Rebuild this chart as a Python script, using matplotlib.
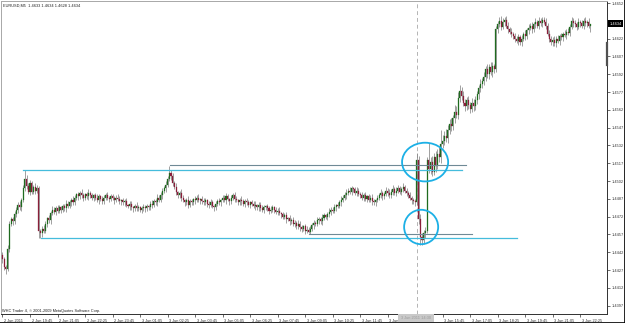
import matplotlib
matplotlib.use('Agg')
import matplotlib.pyplot as plt
from matplotlib.patches import Ellipse, Rectangle
from matplotlib.lines import Line2D
import matplotlib.transforms as mtransforms
import numpy as np

# EURUSD M5, prices in pips above 1.4400
open_first = 40
closes = [
    36, 30, 28, 45, 66, 70, 68, 74, 78, 82, 80, 86, 96, 104, 98, 93, 100, 93, 97, 94,
    96, 60, 58, 62, 60, 66, 71, 69, 75, 78, 76, 79, 77, 80, 78, 81, 79, 83, 81, 84,
    86, 84, 88, 91, 89, 92, 90, 88, 91, 89, 92, 90, 88, 90, 88, 86, 89, 87, 85, 88,
    90, 88, 87, 89, 88, 86, 88, 87, 85, 86, 84, 85, 82, 81, 83, 80, 79, 81, 79, 80,
    78, 79, 80, 79, 81, 80, 83, 82, 85, 84, 88, 86, 90, 94, 96, 99, 104, 109, 106, 100,
    97, 93, 90, 92, 88, 86, 84, 86, 82, 85, 84, 87, 86, 88, 86, 87, 85, 84, 86, 83,
    82, 84, 81, 80, 83, 85, 84, 86, 88, 86, 89, 87, 85, 88, 90, 87, 86, 84, 86, 85,
    83, 85, 84, 82, 84, 83, 81, 82, 80, 82, 79, 78, 80, 81, 79, 77, 78, 80, 78, 76,
    77, 75, 74, 72, 73, 70, 71, 68, 69, 66, 67, 64, 66, 63, 62, 64, 60, 61, 59, 62,
    65, 67, 66, 69, 70, 68, 71, 73, 72, 74, 76, 78, 77, 80, 82, 81, 84, 86, 88, 90,
    92, 94, 93, 96, 95, 92, 94, 91, 90, 88, 90, 87, 89, 86, 88, 85, 84, 86, 88, 90,
    92, 89, 91, 94, 92, 90, 93, 95, 92, 94, 96, 93, 95, 97, 94, 92, 90, 88, 86, 85,
    84, 120, 70, 55, 52, 58, 60, 120, 112, 118, 110, 122, 115, 125, 122, 133, 136, 140, 138, 145,
    150, 148, 155, 160, 158, 172, 178, 174, 168, 165, 170, 166, 163, 168, 165, 170, 175, 180, 184, 186,
    190, 196, 192, 198, 194, 199, 196, 230, 234, 237, 232, 236, 238, 233, 230, 228, 226, 224, 222, 220,
    223, 219, 222, 226, 224, 229, 231, 233, 230, 234, 236, 233, 237, 235, 238, 236, 233, 226, 222, 219,
    221, 218, 222, 220, 224, 223, 226, 225, 228, 227, 232, 237, 235, 234, 232, 236, 235, 233, 237, 235,
    236, 233, 234,
]
# wick lengths in pips beyond the body (base 36 digits)
up_wick = ("22132223223237323223" "32223212232232122322" "23212232123221232122"
           "23122123212231221232" "12322123223232232623" "23123212322122312321"
           "23212231223212232123" "22321223122321223212" "23122312232132212322"
           "22132232123223122323" "32321232232312232122" "32232324233223222312"
           "26343332e454546c5464" "45365553433434343343" "43534323334323323232"
           "32323232323232223232" "23232323232323232323" "230")
dn_wick = ("33423232232322323223" "26432232322322322322" "32223223223223223222"
           "22322322232322323222" "23232223223223232232" "23223232322232232223"
           "32232223223232232223" "23223223232232232232" "32322323223223323212"
           "23223232232322322322" "32232232223232232322" "23223223232232232232"
           "32474342344353453434" "34343434343343433434" "34343432323232323232"
           "32323232323232323232" "32323232323232323232" "325")

x_label_bars = [0, 16, 32, 48, 64, 80, 96, 112, 128, 144, 160, 176, 192, 208,
                224, 256, 272, 288, 304, 320, 336]
x_labels = ['2 Jun 2011', '2 Jun 19:45', '2 Jun 21:05', '2 Jun 22:25', '2 Jun 23:45',
            '3 Jun 01:05', '3 Jun 02:25', '3 Jun 03:45', '3 Jun 05:05', '3 Jun 06:25',
            '3 Jun 07:45', '3 Jun 09:05', '3 Jun 10:25', '3 Jun 11:45', '3 Jun 13:05',
            '3 Jun 15:45', '3 Jun 17:05', '3 Jun 18:25', '3 Jun 19:45', '3 Jun 21:05',
            '3 Jun 22:25']
y_ticks = [1.4397, 1.4412, 1.4427, 1.4442, 1.4457, 1.4472, 1.4487, 1.4502, 1.4517,
           1.4532, 1.4547, 1.4562, 1.4577, 1.4592, 1.4607, 1.4622, 1.4652]

BASE = 1.4400
PIP = 0.0001
FONT = 'Liberation Sans'
FS = 2.8

c = np.array(closes, dtype=float)
o = np.concatenate([[open_first], c[:-1]])
up = np.array([int(ch, 36) for ch in up_wick], dtype=float)
dn = np.array([int(ch, 36) for ch in dn_wick], dtype=float)
assert len(c) == len(up) == len(dn) == 343
h = np.maximum(o, c) + up
l = np.minimum(o, c) - dn
o, h, l, c = (BASE + v * PIP for v in (o, h, l, c))
x = np.arange(len(c))

fig = plt.figure(figsize=(6.25, 3.23), dpi=100, facecolor='white')
ax = fig.add_axes([1 / 625, 9 / 323, 606 / 625, 313 / 323])
ax.set_facecolor('white')

# candles
ax.vlines(x, l, h, color='#868686', lw=0.55, zorder=2)
bull = c >= o
body = np.maximum(np.abs(c - o), 0.4 * PIP)
ax.bar(x[bull], body[bull], bottom=o[bull], width=0.6, color='#1f6b1f',
       edgecolor='#1f6b1f', lw=0.2, zorder=3)
ax.bar(x[~bull], body[~bull], bottom=c[~bull], width=0.6, color='#8a1f3a',
       edgecolor='#8a1f3a', lw=0.2, zorder=3)

# trend lines
ax.plot([12, 267.3], [1.4511, 1.4511], color='#45bcdc', lw=0.9, zorder=4)
ax.plot([97.4, 269.6], [1.45155, 1.45155], color='#6f8a96', lw=0.8, zorder=4)
ax.plot([22.4, 299.3], [1.4454, 1.4454], color='#45bcdc', lw=0.9, zorder=4)
ax.plot([178.3, 273.0], [1.44575, 1.44575], color='#6f8a96', lw=0.8, zorder=4)

# crosshair
ax.axvline(241, color='#b4b4b4', lw=0.7, ls=(0, (4, 3)), zorder=1)

# circles
ax.add_patch(Ellipse((245.8, 1.4518), 26.8, 32.6 * PIP, fill=False,
                     edgecolor='#1cb0e6', lw=1.3, zorder=5))
ax.add_patch(Ellipse((243.5, 1.44633), 19.8, 29.0 * PIP, fill=False,
                     edgecolor='#1cb0e6', lw=1.3, zorder=5))

ax.set_xlim(-0.87, 351.6)
ax.set_ylim(BASE - 10.0 * PIP, BASE + 253.7 * PIP)

for side in ['left', 'top']:
    ax.spines[side].set_color('#a8a8a8')
    ax.spines[side].set_linewidth(0.7)
for side in ['right', 'bottom']:
    ax.spines[side].set_color('#303030')
    ax.spines[side].set_linewidth(0.7)

ax.yaxis.tick_right()
ax.set_yticks(y_ticks)
ax.set_yticklabels(['%.4f' % v for v in y_ticks], fontsize=FS, family=FONT, color='#202020')
ax.tick_params(axis='y', direction='out', length=2, width=0.5, pad=1.2, colors='#303030')

ax.set_xticks(x_label_bars)
ax.set_xticklabels(x_labels, fontsize=FS, family=FONT, color='#202020', ha='left')
ax.tick_params(axis='x', direction='out', length=2.5, width=0.5, pad=0.8, colors='#303030')
shift = mtransforms.ScaledTranslation(1.5 / 100, 0, fig.dpi_scale_trans)
for lab in ax.get_xticklabels():
    lab.set_transform(lab.get_transform() + shift)

# header and footer text
ax.text(0.004, 0.993, 'EURUSD,M5  1.4633 1.4634 1.4628 1.4634', transform=ax.transAxes,
        fontsize=FS, family=FONT, color='#202020', va='top', ha='left')
ax.text(0.002, 0.004, 'WHC Trader 4, \u00a9 2001-2009 MetaQuotes Software Corp.',
        transform=ax.transAxes, fontsize=FS, family=FONT, color='#202020',
        va='bottom', ha='left')

# current price box on the price scale
fig.add_artist(Rectangle((608 / 625, 1 - 27 / 323), 15 / 625, 6.5 / 323,
                         transform=fig.transFigure, facecolor='black', edgecolor='none'))
fig.text(615.5 / 625, 1 - 23.7 / 323, '1.4634', fontsize=FS, family=FONT, color='white',
         ha='center', va='center')
fig.add_artist(Line2D([607 / 625, 607 / 625], [1 - 43 / 323, 1 - 65 / 323],
                      transform=fig.transFigure, color='#505050', lw=1.6))

# crosshair time box
fig.add_artist(Rectangle((398 / 625, 1 - 322 / 323), 36 / 625, 8 / 323,
                         transform=fig.transFigure, facecolor='#c9c9c9', edgecolor='none'))
fig.text(416 / 625, 1 - 318 / 323, '3 Jun 2011 14:30', fontsize=FS, family=FONT,
         color='#9a9a9a', ha='center', va='center')

# window frame
fig.add_artist(Line2D([0, 1], [0.5 / 323, 0.5 / 323], transform=fig.transFigure,
                      color='black', lw=1.2))
fig.add_artist(Line2D([1 - 0.5 / 625, 1 - 0.5 / 625], [0, 1], transform=fig.transFigure,
                      color='black', lw=1.2))

fig.savefig('out.png', dpi=100, facecolor='white')
